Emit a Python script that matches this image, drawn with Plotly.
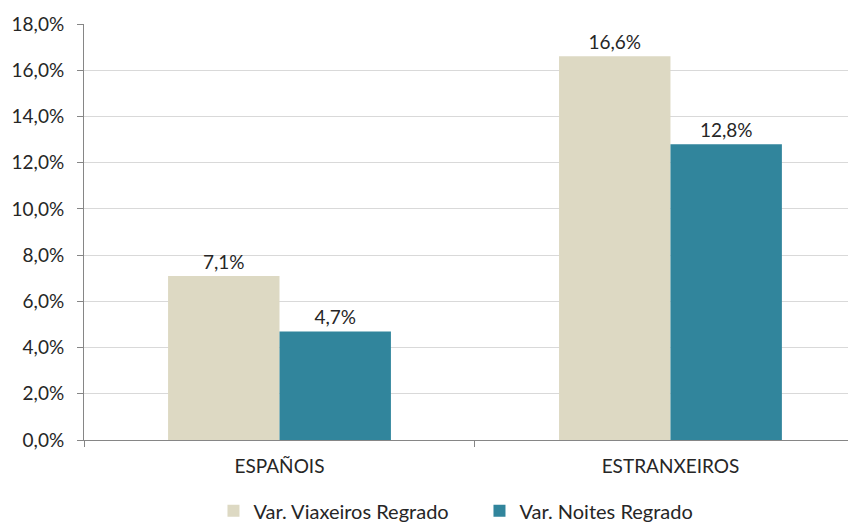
import plotly.graph_objects as go

categories = ["ESPAÑOIS", "ESTRANXEIROS"]
viaxeiros = [7.1, 16.6]
noites = [4.7, 12.8]
series_names = ["Var. Viaxeiros Regrado", "Var. Noites Regrado"]
y_ticks = [0, 2, 4, 6, 8, 10, 12, 14, 16, 18]
y_tick_labels = [f"{v:.1f}%".replace(".", ",") for v in y_ticks]

FONT = "Lato"
TXT = "#262626"

fig = go.Figure()
fig.add_trace(go.Bar(
    x=categories, y=viaxeiros, name=series_names[0],
    marker=dict(color="#DDD9C3", line=dict(width=0)),
    texttemplate="%{y:.1f}%", textposition="outside",
    textfont=dict(family=FONT, size=19, color=TXT), cliponaxis=False,
))
fig.add_trace(go.Bar(
    x=categories, y=noites, name=series_names[1],
    marker=dict(color="#31859C", line=dict(width=0)),
    texttemplate="%{y:.1f}%", textposition="outside",
    textfont=dict(family=FONT, size=19, color=TXT), cliponaxis=False,
))

fig.update_layout(
    width=856, height=526,
    margin=dict(l=76, r=0, t=16, b=94),
    paper_bgcolor="white", plot_bgcolor="white",
    separators=",.",
    barmode="group", bargap=0.43, bargroupgap=0,
    font=dict(family=FONT, size=19, color=TXT),
    showlegend=True,
    legend=dict(orientation="h", x=0.166, xanchor="left",
                yref="container", y=0.044, yanchor="middle",
                font=dict(family=FONT, size=20, color=TXT),
                entrywidth=221, entrywidthmode="pixels", tracegroupgap=0),
)
fig.update_xaxes(
    type="category", range=[-0.5, 1.495], automargin=False,
    showline=True, linecolor="#868686", linewidth=1,
    ticks="outside", tickson="boundaries", ticklen=6, tickcolor="#868686",
    ticklabelstandoff=9,
    showgrid=False, tickfont=dict(family=FONT, size=19, color=TXT),
)
fig.update_yaxes(
    range=[0, 18], tickvals=y_ticks, ticktext=y_tick_labels, automargin=False,
    showline=True, linecolor="#868686", linewidth=1,
    ticks="outside", ticklen=6, tickcolor="#868686",
    ticklabelstandoff=9,
    showgrid=True, gridcolor="#D9D9D9", gridwidth=1,
    zeroline=False,
    tickfont=dict(family=FONT, size=19, color=TXT),
)

fig.write_html("out.html")
